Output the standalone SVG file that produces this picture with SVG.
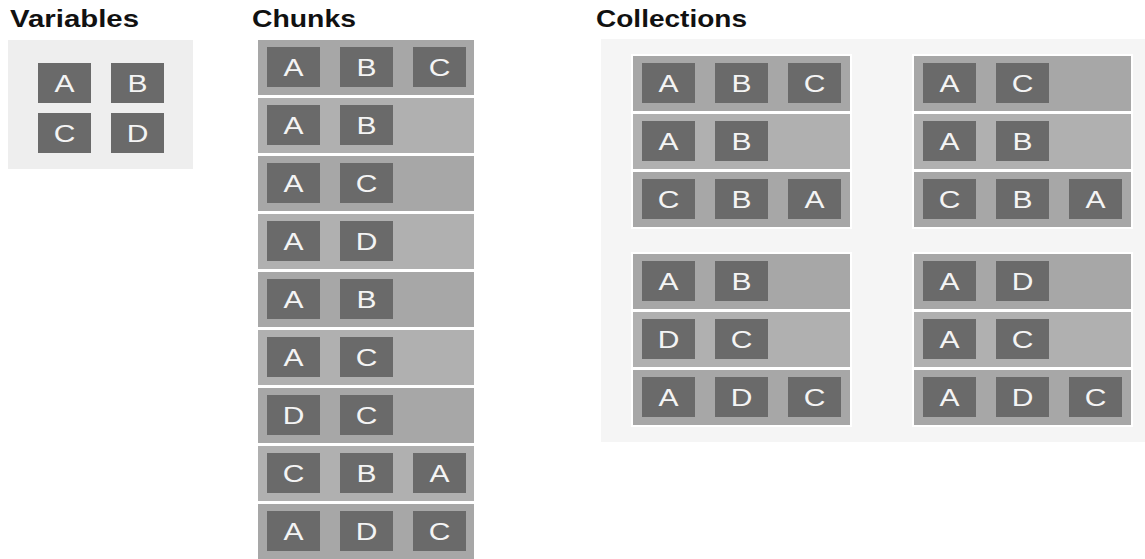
<svg xmlns="http://www.w3.org/2000/svg" width="1145" height="559" viewBox="0 0 1145 559">
<style>
.title{font-family:"Liberation Sans",Arial,sans-serif;font-weight:bold;font-size:24px;fill:#111111}
.b{fill:#6a6a6a}
.t{font-family:"Liberation Sans",Arial,sans-serif;font-size:24px;fill:#f4f4f4;text-anchor:middle}
.rd{fill:#a7a7a7}
.rl{fill:#b0b0b0}
.sep{fill:#ffffff}
</style>
<defs>
<g id="bA"><rect class="b" width="53" height="40"/><text class="t" x="21.2" y="29.5" transform="scale(1.25,1)">A</text></g>
<g id="bB"><rect class="b" width="53" height="40"/><text class="t" x="21.2" y="29.5" transform="scale(1.25,1)">B</text></g>
<g id="bC"><rect class="b" width="53" height="40"/><text class="t" x="21.2" y="29.5" transform="scale(1.25,1)">C</text></g>
<g id="bD"><rect class="b" width="53" height="40"/><text class="t" x="21.2" y="29.5" transform="scale(1.25,1)">D</text></g>
</defs>
<rect width="1145" height="559" fill="#ffffff"/>

<text class="title" x="10" y="27" textLength="129" lengthAdjust="spacingAndGlyphs">Variables</text>
<text class="title" x="252" y="27" textLength="104" lengthAdjust="spacingAndGlyphs">Chunks</text>
<text class="title" x="596" y="27" textLength="151" lengthAdjust="spacingAndGlyphs">Collections</text>

<g id="variables">
<rect x="8" y="40" width="185" height="129" fill="#eeeeee"/>
<use href="#bA" x="38" y="63"/><use href="#bB" x="111" y="63"/>
<use href="#bC" x="38" y="113"/><use href="#bD" x="111" y="113"/>
</g>

<g id="chunks">
<g id="chunk1"><rect class="rd" x="258" y="40" width="216" height="55"/><use href="#bA" x="267" y="47"/><use href="#bB" x="340" y="47"/><use href="#bC" x="413" y="47"/></g>
<g id="chunk2"><rect class="rl" x="258" y="98" width="216" height="55"/><use href="#bA" x="267" y="105"/><use href="#bB" x="340" y="105"/></g>
<g id="chunk3"><rect class="rd" x="258" y="156" width="216" height="55"/><use href="#bA" x="267" y="163"/><use href="#bC" x="340" y="163"/></g>
<g id="chunk4"><rect class="rl" x="258" y="214" width="216" height="55"/><use href="#bA" x="267" y="221"/><use href="#bD" x="340" y="221"/></g>
<g id="chunk5"><rect class="rd" x="258" y="272" width="216" height="55"/><use href="#bA" x="267" y="279"/><use href="#bB" x="340" y="279"/></g>
<g id="chunk6"><rect class="rl" x="258" y="330" width="216" height="55"/><use href="#bA" x="267" y="337"/><use href="#bC" x="340" y="337"/></g>
<g id="chunk7"><rect class="rd" x="258" y="388" width="216" height="55"/><use href="#bD" x="267" y="395"/><use href="#bC" x="340" y="395"/></g>
<g id="chunk8"><rect class="rl" x="258" y="446" width="216" height="55"/><use href="#bC" x="267" y="453"/><use href="#bB" x="340" y="453"/><use href="#bA" x="413" y="453"/></g>
<g id="chunk9"><rect class="rd" x="258" y="504" width="216" height="55"/><use href="#bA" x="267" y="511"/><use href="#bD" x="340" y="511"/><use href="#bC" x="413" y="511"/></g>
</g>

<g id="collections">
<rect x="601" y="39" width="544" height="403" fill="#f5f5f5"/>
<g id="coll1">
<rect class="sep" x="631" y="54" width="221" height="175"/>
<rect class="rd" x="633" y="56" width="217" height="55"/><use href="#bA" x="642" y="63"/><use href="#bB" x="715" y="63"/><use href="#bC" x="788" y="63"/>
<rect class="rl" x="633" y="114" width="217" height="55"/><use href="#bA" x="642" y="121"/><use href="#bB" x="715" y="121"/>
<rect class="rd" x="633" y="172" width="217" height="55"/><use href="#bC" x="642" y="179"/><use href="#bB" x="715" y="179"/><use href="#bA" x="788" y="179"/>
</g>
<g id="coll2">
<rect class="sep" x="912" y="54" width="221" height="175"/>
<rect class="rd" x="914" y="56" width="217" height="55"/><use href="#bA" x="923" y="63"/><use href="#bC" x="996" y="63"/>
<rect class="rl" x="914" y="114" width="217" height="55"/><use href="#bA" x="923" y="121"/><use href="#bB" x="996" y="121"/>
<rect class="rd" x="914" y="172" width="217" height="55"/><use href="#bC" x="923" y="179"/><use href="#bB" x="996" y="179"/><use href="#bA" x="1069" y="179"/>
</g>
<g id="coll3">
<rect class="sep" x="631" y="252" width="221" height="175"/>
<rect class="rd" x="633" y="254" width="217" height="55"/><use href="#bA" x="642" y="261"/><use href="#bB" x="715" y="261"/>
<rect class="rl" x="633" y="312" width="217" height="55"/><use href="#bD" x="642" y="319"/><use href="#bC" x="715" y="319"/>
<rect class="rd" x="633" y="370" width="217" height="55"/><use href="#bA" x="642" y="377"/><use href="#bD" x="715" y="377"/><use href="#bC" x="788" y="377"/>
</g>
<g id="coll4">
<rect class="sep" x="912" y="252" width="221" height="175"/>
<rect class="rd" x="914" y="254" width="217" height="55"/><use href="#bA" x="923" y="261"/><use href="#bD" x="996" y="261"/>
<rect class="rl" x="914" y="312" width="217" height="55"/><use href="#bA" x="923" y="319"/><use href="#bC" x="996" y="319"/>
<rect class="rd" x="914" y="370" width="217" height="55"/><use href="#bA" x="923" y="377"/><use href="#bD" x="996" y="377"/><use href="#bC" x="1069" y="377"/>
</g>
</g>
<g id="connectors"/>
</svg>
